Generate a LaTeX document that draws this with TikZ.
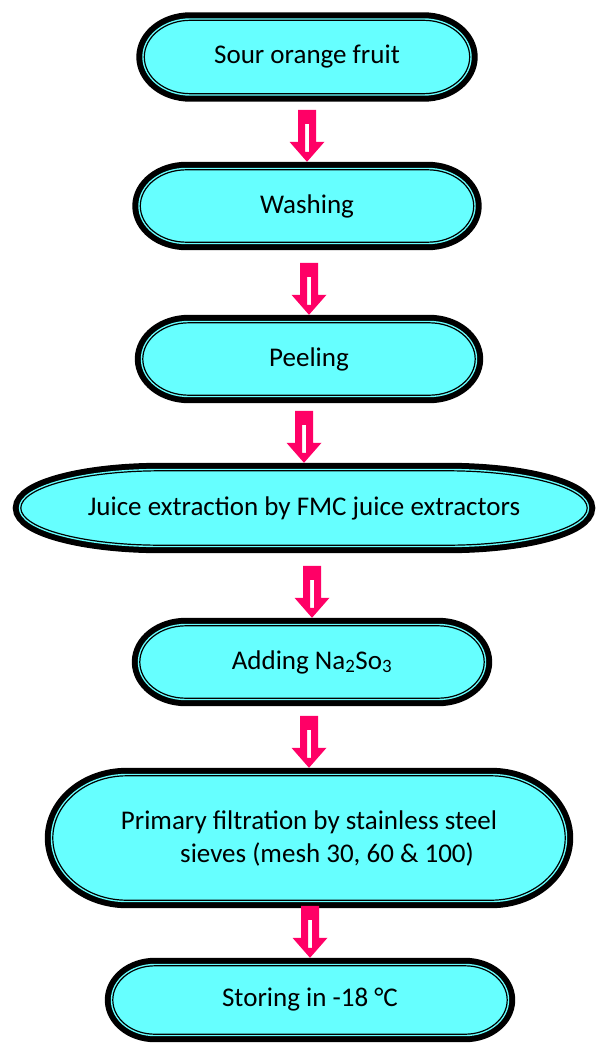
\documentclass[tikz,border=0pt]{standalone}
\usepackage{fontspec}
\setmainfont{Carlito}
\usetikzlibrary{calc,backgrounds}

\definecolor{pillcyan}{RGB}{102,255,255}
\definecolor{arrowpink}{RGB}{255,0,102}

\begin{document}
\begin{tikzpicture}[
  x=1pt, y=1pt,
  font=\fontsize{27}{33}\selectfont,
  pill/.style 2 args={rectangle, inner sep=0pt, align=center,
    minimum width=#1pt, minimum height=#2pt},
  pillline/.style={preaction={draw=black, line width=16pt},
    preaction={draw=pillcyan, line width=4pt},
    fill=pillcyan, draw=black, line width=1.2pt},
  flow/.style={arrowpink, even odd rule, to path={
    ($(\tikztotarget.north)+(-9,60)$) -- ++(18,0) -- ++(0,-32) -- ++(8.5,0)
    -- ($(\tikztotarget.north)+(0,8)$) -- ++(-17.5,20) -- ++(8.5,0) -- cycle
    ($(\tikztotarget.north)+(-2,46)$) rectangle ++(4,-28)}}
]
\useasboundingbox (0,0) rectangle (597,-1043);

\node[pill={325}{73}] (fruit) at (307,-57) {Sour orange fruit};
\node[pill={333}{72}] (wash) at (307,-206) {Washing};
\node[pill={332}{72}] (peel) at (309,-359) {Peeling};
\node[pill={566}{74}] (juice) at (304,-508) {Juice extraction by FMC juice extractors};
\node[pill={344}{72}] (sulfite) at (312,-662) {Adding Na\textsubscript{2}So\textsubscript{3}};
\node[pill={512}{124}] (filter) at (309,-838) {Primary filtration by stainless steel\\\hspace*{36pt}sieves (mesh 30, 60 \& 100)};
\node[pill={394}{68}] (store) at (310,-1000) {Storing in -18 °C};

% oval outlines behind the texts
\begin{scope}[on background layer]
\foreach \step/\rx in {fruit/46, wash/46, peel/46, juice/140, sulfite/46, filter/74, store/42}
  \draw[pillline] let \p1=(\step.north west), \p2=(\step.south east), \n1={(\y1-\y2)/2} in
    (\x1+\rx,\y1) -- (\x2-\rx,\y1)
    arc[start angle=90, end angle=-90, x radius=\rx pt, y radius=\n1]
    -- (\x1+\rx,\y2)
    arc[start angle=270, end angle=90, x radius=\rx pt, y radius=\n1] -- cycle;
\end{scope}

\fill[flow] (fruit) to (wash);
\fill[flow] (wash) to (peel);
\fill[flow] (peel) to (juice);
\fill[flow] (juice) to (sulfite);
\fill[flow] (sulfite) to (filter);
\fill[flow] (filter) to (store);
\end{tikzpicture}
\end{document}
